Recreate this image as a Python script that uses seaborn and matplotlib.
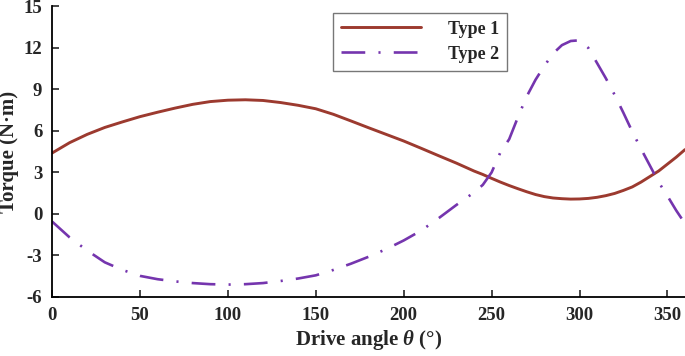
import numpy as np
import pandas as pd
import matplotlib
matplotlib.use("Agg")
import matplotlib.pyplot as plt
import seaborn as sns

# drive angle (deg)
angle = [0, 10, 20, 30, 40, 50, 60, 70, 80, 90, 100, 110, 120, 130, 140, 150,
         160, 170, 180, 190, 200, 210, 220, 230, 240, 245, 250, 255, 260, 265,
         270, 275, 280, 285, 290, 295, 300, 305, 310, 315, 320, 325, 330, 335,
         340, 345, 350, 355, 360]

type1 = [4.4, 5.15, 5.75, 6.25, 6.65, 7.03, 7.35, 7.65, 7.92, 8.12, 8.22, 8.25,
         8.2, 8.05, 7.85, 7.6, 7.2, 6.72, 6.23, 5.75, 5.27, 4.74, 4.2, 3.67, 3.1,
         2.85, 2.57, 2.3, 2.05, 1.82, 1.6, 1.4, 1.25, 1.15, 1.1, 1.07, 1.08, 1.12,
         1.2, 1.32, 1.48, 1.7, 1.95, 2.3, 2.7, 3.1, 3.6, 4.1, 4.65]

type2 = [-0.55, -1.7, -2.65, -3.5, -4.05, -4.48, -4.72, -4.88, -5.0, -5.08, -5.11,
         -5.08, -5.0, -4.85, -4.67, -4.44, -4.05, -3.6, -3.1, -2.55, -1.92, -1.2,
         -0.3, 0.65, 1.55, 2.1, 3.0, 4.45, 5.4, 7.0, 8.5, 9.7, 10.7, 11.6, 12.2,
         12.5, 12.55, 12.0, 10.9, 9.8, 8.6, 7.3, 5.95, 4.7, 3.5, 2.3, 1.3, 0.25,
         -0.7]

df = pd.DataFrame({"angle": angle, "Type 1": type1, "Type 2": type2})

sns.set_style("ticks")
plt.rcParams["font.family"] = ["Liberation Serif", "DejaVu Serif"]
plt.rcParams["font.weight"] = "bold"
plt.rcParams["axes.unicode_minus"] = False
plt.rcParams["mathtext.fontset"] = "custom"
plt.rcParams["mathtext.it"] = "Liberation Serif:italic:bold"
plt.rcParams["mathtext.rm"] = "Liberation Serif:bold"

fig = plt.figure(figsize=(6.85, 3.56), dpi=100)
ax = fig.add_axes([0.076, 0.166, 0.924, 0.816])

sns.lineplot(data=df, x="angle", y="Type 1", ax=ax, color="#9C3A2F",
             linewidth=2.1, label="Type 1", sort=False)
sns.lineplot(data=df, x="angle", y="Type 2", ax=ax, color="#7535AE",
             linewidth=1.9, label="Type 2", sort=False)
ax.lines[1].set_dashes([9, 5, 0.8, 5])

ax.set_xlim(0, 360)
ax.set_ylim(-6, 15)
ax.set_xticks(range(0, 351, 50))
ax.set_yticks(range(-6, 16, 3))
ax.tick_params(direction="in", length=5, width=1.2, labelsize=13.5, pad=7)
for lab in ax.get_xticklabels() + ax.get_yticklabels():
    lab.set_fontweight("bold")

sns.despine(ax=ax)
for s in ["left", "bottom"]:
    ax.spines[s].set_linewidth(1.3)
    ax.spines[s].set_color("black")

ax.set_xlabel(r"Drive angle $\theta$ (°)", fontsize=15, fontweight="bold", labelpad=3)
ax.set_ylabel("Torque (N·m)", fontsize=15, fontweight="bold", labelpad=0)
ax.yaxis.set_label_coords(-0.052, 0.5)

leg = ax.legend(loc="upper left", bbox_to_anchor=(0.43, 1.01), fontsize=13,
                handlelength=4.4, handletextpad=1.5, borderpad=0.45,
                labelspacing=0.45, fancybox=False, frameon=True)
leg.get_frame().set_edgecolor("#555555")
leg.get_frame().set_linewidth(1.0)
for t in leg.get_texts():
    t.set_fontweight("bold")

fig.savefig("out.png", dpi=100)
